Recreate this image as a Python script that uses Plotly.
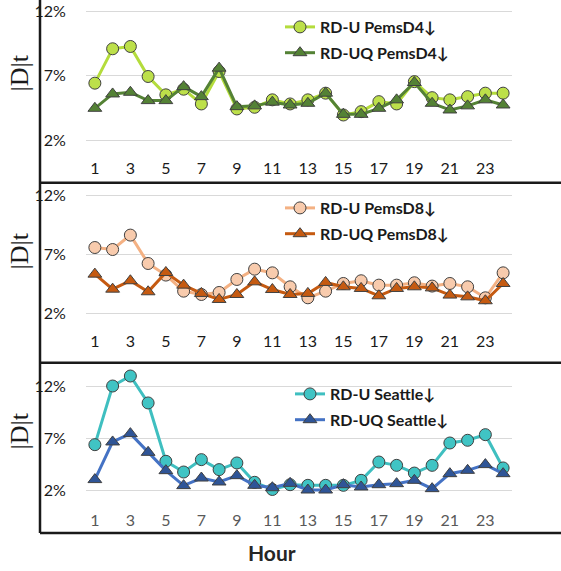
import plotly.graph_objects as go

hours = list(range(1, 25))
tick_hours = list(range(1, 24, 2))
y_ticks = [2, 7, 12]
y_tick_text = ["2%", "7%", "12%"]

d4_u = [6.43, 9.11, 9.29, 6.95, 5.52, 5.96, 4.81, 7.34, 4.42, 4.55, 5.13, 4.81,
        5.13, 5.65, 3.95, 4.21, 4.99, 4.81, 6.55, 5.30, 5.13, 5.38, 5.65, 5.65]
d4_uq = [4.47, 5.59, 5.72, 5.07, 5.07, 6.16, 5.38, 7.60, 4.60, 4.66, 4.95, 4.73,
         4.86, 5.65, 4.00, 4.00, 4.47, 5.13, 6.48, 4.86, 4.34, 4.66, 5.13, 4.73]
d8_u = [7.56, 7.39, 8.61, 6.21, 5.23, 3.87, 3.59, 3.76, 4.86, 5.73, 5.42, 4.24,
        3.31, 3.87, 4.52, 4.75, 4.38, 4.38, 4.58, 4.30, 4.52, 4.24, 3.31, 5.42]
d8_uq = [5.31, 4.04, 4.75, 3.82, 5.45, 4.38, 3.68, 3.17, 3.59, 4.66, 4.01, 3.59,
         3.68, 4.61, 4.24, 4.10, 3.48, 4.10, 4.24, 4.15, 3.54, 3.39, 3.06, 4.52]
se_u = [6.36, 12.00, 12.96, 10.37, 4.76, 3.73, 4.92, 3.96, 4.60, 2.74, 2.05, 2.51,
        2.45, 2.45, 2.45, 2.93, 4.69, 4.37, 3.63, 4.37, 6.52, 6.78, 7.32, 4.12]
se_uq = [3.00, 6.62, 7.42, 5.62, 3.86, 2.42, 3.15, 2.77, 3.38, 2.45, 2.22, 2.64,
         2.00, 2.00, 2.51, 2.29, 2.51, 2.61, 2.93, 2.13, 3.57, 3.89, 4.44, 3.57]

names = [("RD-U PemsD4↓", "RD-UQ PemsD4↓"),
         ("RD-U PemsD8↓", "RD-UQ PemsD8↓"),
         ("RD-U Seattle↓", "RD-UQ Seattle↓")]

W, H = 561, 571
FONT = "Lato"
OUT = "#404040"

fig = go.Figure()

panels = [
    # (u, uq, u_line, u_fill, uq_line, uq_fill, top_px, bottom_px, yrange, xtickcolor, legend pos)
    (d4_u, d4_uq, "#b4dc3c", "#bde04a", "#548235", "#548235", 2, 157, [0.675, 12.756], "#1a1a1a", (280, 10)),
    (d8_u, d8_uq, "#f4b183", "#f8cbad", "#c55a11", "#c55a11", 185, 330, [0.588, 12.845], "#1a1a1a", (280, 191)),
    (se_u, se_uq, "#3fbfc0", "#40c4c4", "#4472c4", "#2f5597", 366, 509, [0.173, 13.923], "#595959", (290, 377)),
]

for i, (u, uq, ul, uf, ql, qf, top, bot, yr, xtc, lpos) in enumerate(panels):
    n = "" if i == 0 else str(i + 1)
    leg = "legend" if i == 0 else f"legend{i+1}"
    fig.add_trace(go.Scatter(
        x=hours, y=u, mode="lines+markers", name=names[i][0],
        line=dict(color=ul, width=3),
        marker=dict(symbol="circle", size=12, color=uf, line=dict(color=OUT, width=1)),
        xaxis="x" + n, yaxis="y" + n, legend=leg, legendgroup=f"a{i}"))
    fig.add_trace(go.Scatter(
        x=hours, y=uq, mode="lines+markers", name=names[i][1],
        line=dict(color=ql, width=3),
        marker=dict(symbol="triangle-up", size=12, color=qf, line=dict(color=OUT, width=1)),
        xaxis="x" + n, yaxis="y" + n, legend=leg, legendgroup=f"b{i}"))
    fig.update_layout(**{
        "xaxis" + n: dict(domain=[86 / W, 512 / W], range=[0.5, 24.5], tickvals=tick_hours,
                          showgrid=False, zeroline=False, showline=False, ticks="",
                          anchor="y" + n,
                          tickfont=dict(family=FONT, size=16, color=xtc)),
        "yaxis" + n: dict(domain=[1 - bot / H, 1 - top / H], range=yr, tickvals=y_ticks,
                          ticktext=y_tick_text, showgrid=True, gridcolor="#d9d9d9", gridwidth=1.3,
                          zeroline=False, showline=False, ticks="outside", ticklen=16,
                          tickcolor="rgba(0,0,0,0)", anchor="x" + n,
                          tickfont=dict(family=FONT, size=16, color="#1a1a1a")),
        leg: dict(x=lpos[0] / W, y=1 - lpos[1] / H, xanchor="left", yanchor="top",
                  bgcolor="rgba(0,0,0,0)", tracegroupgap=2,
                  font=dict(family=FONT, size=16, color="#1a1a1a", weight="bold")),
    })
    fig.add_annotation(text="|D|t", x=19 / W, y=1 - ((top + bot) / 2 - 6) / H, xref="paper", yref="paper",
                       xanchor="center", yanchor="middle",
                       textangle=-90, showarrow=False,
                       font=dict(family="Liberation Serif", size=26, color="#1a1a1a"))

fig.add_annotation(text="<b>Hour</b>", x=272 / W, y=1 - 552 / H, xref="paper", yref="paper",
                   xanchor="center", yanchor="middle",
                   showarrow=False, font=dict(family=FONT, size=21, color="#262626"))

# panel frames
frame = dict(type="line", xref="paper", yref="paper", line=dict(color="#1a1a1a", width=2.5))
fig.add_shape(x0=40 / W, x1=40 / W, y0=1 - 533 / H, y1=1, **frame)
for py in (182.7, 362.7, 533):
    fig.add_shape(x0=40 / W, x1=1, y0=1 - py / H, y1=1 - py / H, **frame)

fig.update_layout(width=W, height=H, margin=dict(l=0, r=0, t=0, b=0),
                  paper_bgcolor="white", plot_bgcolor="white", showlegend=True)

fig.write_html("out.html")
